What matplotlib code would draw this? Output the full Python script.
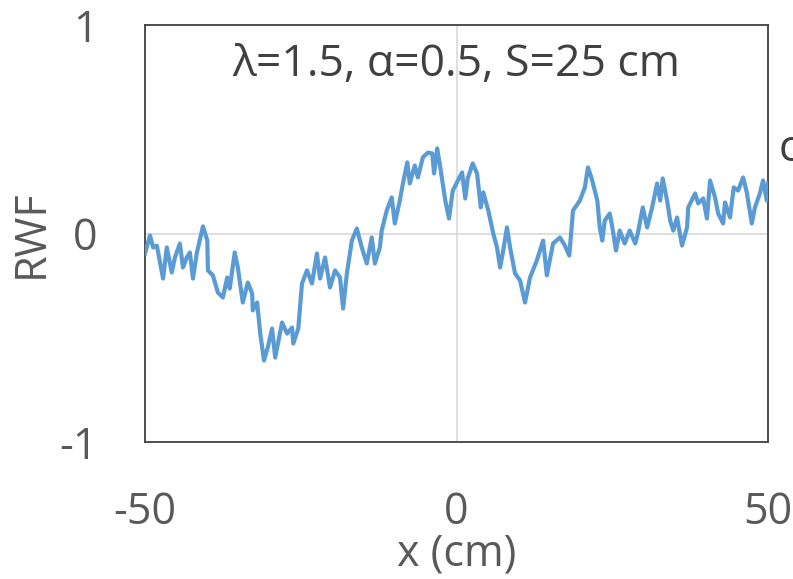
import matplotlib
matplotlib.use("Agg")
import matplotlib.pyplot as plt

# Data
x_cm = [-50.0, -49.2, -48.7, -48.1, -47.1, -46.5, -45.7, -45.2, -44.4, -43.9,
        -43.3, -42.8, -42.3, -41.7, -40.7, -40.0, -39.9, -39.1, -38.3, -37.5,
        -36.8, -36.4, -35.6, -35.1, -34.3, -33.5, -32.8, -32.7, -32.0, -31.5,
        -30.9, -30.3, -29.6, -29.1, -28.0, -27.2, -26.4, -26.2, -25.4, -24.8,
        -24.0, -23.2, -22.4, -21.9, -21.1, -20.3, -19.5, -18.7, -18.2, -17.6,
        -16.8, -16.0, -15.2, -14.4, -13.6, -13.1, -12.3, -12.0, -11.2, -10.4,
        -9.9, -9.1, -8.6, -7.9, -7.5, -6.7, -6.2, -5.4, -4.6, -3.9,
        -3.6, -3.1, -2.6, -1.8, -1.2, -0.6, 0.9, 1.4, 1.8, 2.6,
        3.3, 3.9, 4.3, 5.1, 5.9, 6.5, 7.0, 7.5, 8.1, 8.6,
        9.4, 10.2, 11.0, 11.8, 12.9, 13.9, 14.5, 15.5, 16.6, 17.4,
        18.1, 18.7, 19.8, 20.6, 21.1, 21.7, 22.6, 23.0, 23.4, 23.8,
        24.6, 25.1, 25.6, 26.2, 27.0, 27.8, 28.7, 29.1, 29.9, 30.6,
        31.4, 32.2, 32.7, 33.1, 33.8, 34.3, 34.8, 35.4, 36.2, 37.0,
        37.2, 38.3, 38.8, 39.6, 40.2, 40.7, 41.5, 42.0, 42.8, 43.1,
        43.9, 44.5, 45.2, 46.0, 46.6, 47.4, 47.9, 48.7, 49.2, 49.8, 50.0]
rwf = [-0.096, -0.010, -0.067, -0.058, -0.216, -0.067, -0.187, -0.115, -0.048, -0.163,
       -0.115, -0.091, -0.216, -0.096, 0.034, -0.034, -0.177, -0.201, -0.283, -0.307,
       -0.211, -0.264, -0.091, -0.163, -0.331, -0.235, -0.288, -0.369, -0.331, -0.480,
       -0.609, -0.547, -0.456, -0.595, -0.427, -0.480, -0.451, -0.528, -0.456, -0.240,
       -0.177, -0.240, -0.096, -0.216, -0.115, -0.259, -0.177, -0.211, -0.360, -0.192,
       -0.034, 0.024, -0.067, -0.144, -0.019, -0.144, -0.067, 0.014, 0.110, 0.173,
       0.048, 0.158, 0.240, 0.341, 0.240, 0.326, 0.269, 0.365, 0.388, 0.384,
       0.288, 0.408, 0.317, 0.158, 0.072, 0.206, 0.293, 0.168, 0.264, 0.336,
       0.288, 0.125, 0.197, 0.110, 0.000, -0.067, -0.163, -0.082, 0.029, -0.067,
       -0.192, -0.225, -0.331, -0.211, -0.129, -0.034, -0.201, -0.048, -0.019, -0.058,
       -0.106, 0.110, 0.158, 0.221, 0.317, 0.264, 0.158, 0.029, -0.034, 0.062,
       0.096, 0.014, -0.082, 0.014, -0.048, 0.014, -0.048, 0.000, 0.125, 0.029,
       0.125, 0.240, 0.158, 0.264, 0.158, 0.062, 0.014, 0.077, -0.058, 0.029,
       0.125, 0.192, 0.144, 0.168, 0.072, 0.254, 0.173, 0.096, 0.048, 0.149,
       0.077, 0.221, 0.206, 0.269, 0.197, 0.048, 0.125, 0.192, 0.254, 0.158, 0.240]
x_ticks = [-50, 0, 50]
y_ticks = [-1, 0, 1]
title = "λ=1.5, α=0.5, S=25 cm"

plt.rcParams['font.family'] = ['Open Sans', 'DejaVu Sans']
plt.rcParams['axes.unicode_minus'] = False
txt = '#595959'

fig = plt.figure(figsize=(7.93, 5.79), dpi=100)
ax = fig.add_axes([145/793, 1-442/579, (768-145)/793, (442-25)/579])

ax.axhline(0, color='#d9d9d9', lw=1.2, zorder=1)
ax.axvline(0, color='#d9d9d9', lw=1.2, zorder=1)
ax.plot(x_cm, rwf, color='#5B9BD5', lw=3.0, zorder=3, solid_joinstyle='round')

ax.set_xlim(-50, 50)
ax.set_ylim(-1, 1)
ax.set_xticks(x_ticks)
ax.set_yticks(y_ticks)
ax.tick_params(length=0, labelsize=31, colors=txt)
ax.tick_params(axis='x', pad=35)
ax.tick_params(axis='y', pad=34)
for s in ax.spines.values():
    s.set_color('#404040')
    s.set_linewidth(1.3)

ax.set_xlabel('x (cm)', fontsize=31, color=txt, labelpad=-2)
ax.set_ylabel('RWF', fontsize=31, color=txt, labelpad=4)
ax.text(0.5, 0.905, title, transform=ax.transAxes, ha='center', va='center',
        fontsize=32, color='#404040')
fig.text(779/793, 1-150/579, 'c', ha='left', va='center', fontsize=31, color='#404040')

fig.savefig('out.png', dpi=100)
